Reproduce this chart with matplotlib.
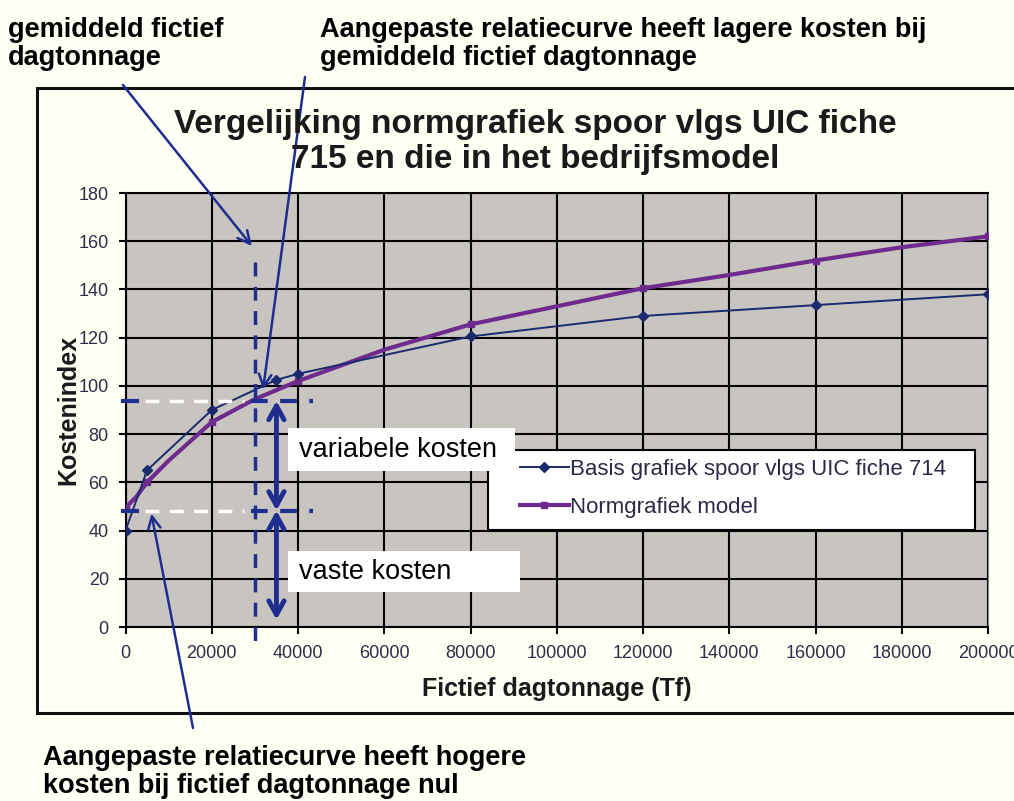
import matplotlib
matplotlib.use('Agg')
import matplotlib.pyplot as plt
from matplotlib.patches import Rectangle

plt.rcParams['font.family'] = ['Liberation Sans', 'DejaVu Sans']

# data
x_basis = [0, 5000, 20000, 35000, 40000, 80000, 120000, 160000, 200000]
y_basis = [40, 65, 90, 102.5, 105, 120.5, 129, 133.5, 138]

x_norm = [0, 2500, 5000, 10000, 20000, 30000, 40000, 60000, 80000,
          100000, 120000, 140000, 160000, 180000, 200000]
y_norm = [49.5, 54, 60, 69, 85, 94.5, 102, 115, 125.5,
          133, 140.5, 146, 152, 157.5, 162]
norm_marks = [0, 2, 4, 6, 8, 10, 12, 14]

x_ticks = list(range(0, 200001, 20000))
y_ticks = list(range(0, 181, 20))

avg_tonnage = 30000
split_x = 35000
level_var = 93.8
level_fixed = 48.3

navy = '#1f2d8f'
bg = '#fffff4'
W, H = 1014, 801

fig = plt.figure(figsize=(W / 100, H / 100), dpi=100, facecolor=bg)

# outer chart frame
frame = fig.add_axes([0, 0, 1, 1], zorder=-5)
frame.set_xlim(0, W)
frame.set_ylim(H, 0)
frame.axis('off')
frame.add_patch(Rectangle((37, 88), 1200, 713 - 88, facecolor=bg,
                          edgecolor='#111111', lw=2.2))

ax = fig.add_axes([125.5 / W, 1 - 627 / H, (988 - 125.5) / W, (627 - 193) / H],
                  zorder=1)
ax.set_facecolor('#c8c5c0')

ax.plot(x_basis, y_basis, color='#1b2a6e', lw=1.4, marker='D', ms=5.5,
        label='Basis grafiek spoor vlgs UIC fiche 714', zorder=4)
ax.plot(x_norm, y_norm, color='#6e2a8c', lw=3, marker='s', ms=5,
        markevery=norm_marks, label='Normgrafiek model', zorder=3)

ax.set_xlim(0, 200000)
ax.set_ylim(0, 180)
ax.set_xticks(x_ticks)
ax.set_yticks(y_ticks)
ax.grid(True, color='black', lw=1.5)
ax.set_axisbelow(True)
ax.tick_params(axis='both', direction='out', length=5, width=1.5,
               labelsize=13, labelcolor='#2e2e48')
ax.tick_params(axis='x', pad=8)
ax.tick_params(axis='y', pad=7)
for s in ['left', 'bottom', 'top']:
    ax.spines[s].set_color('black')
    ax.spines[s].set_linewidth(1.5)
ax.spines['right'].set_color('#888888')

ax.set_xlabel('Fictief dagtonnage (Tf)', fontsize=18, fontweight='bold',
              labelpad=11, color='#1a1a1a')
ax.set_ylabel('Kostenindex', fontsize=18, fontweight='bold', labelpad=-1,
              color='#1a1a1a')

fig.text(535 / W, 1 - 142 / H,
         'Vergelijking normgrafiek spoor vlgs UIC fiche\n715 en die in het bedrijfsmodel',
         ha='center', va='center', fontsize=24, fontweight='bold',
         color='#1a1a1a', linespacing=1.15)

# legend: white box with black border, entries inside
ax.add_patch(Rectangle((0.4203, 0.2235), 0.5647, 0.1843, transform=ax.transAxes,
                       facecolor='white', edgecolor='black', lw=1.5, zorder=6))
leg = ax.legend(loc='center left', bbox_to_anchor=(0.4574, 0.319),
                fontsize=16, frameon=False, handlelength=2.2,
                handletextpad=0.05, labelspacing=0.75, borderaxespad=0,
                borderpad=0)
leg.set_zorder(7)
for t in leg.get_texts():
    t.set_color('#2a2a48')

# helper lines: average tonnage and the two cost levels
ax.plot([avg_tonnage, avg_tonnage], [151.5, -9], color=navy, lw=2.5,
        ls=(0, (4, 3)), clip_on=False, zorder=5)
for lvl in [level_var, level_fixed]:
    ax.plot([-600, 2600], [lvl, lvl], color=navy, lw=3, clip_on=False, zorder=5)
    ax.plot([4500, 27500], [lvl, lvl], color='white', lw=2.5,
            ls=(0, (4, 3)), zorder=5)
    ax.plot([29000, 43500], [lvl, lvl], color=navy, lw=3,
            ls=(0, (4, 3)), clip_on=False, zorder=5)

# vertical double arrows
dbl = dict(arrowstyle='<->,head_length=1.0,head_width=0.55', color=navy,
           lw=3.5, shrinkA=0, shrinkB=0)
ax.annotate('', xy=(split_x, level_var), xytext=(split_x, level_fixed),
            arrowprops=dbl, zorder=6)
ax.annotate('', xy=(split_x, level_fixed), xytext=(split_x, 3),
            arrowprops=dbl, zorder=6)

# white text boxes
ax.add_patch(Rectangle((37700, 64.7), 52600, 17.9, facecolor='white',
                       edgecolor='none', zorder=6))
ax.add_patch(Rectangle((37700, 14.5), 53700, 17.0, facecolor='white',
                       edgecolor='none', zorder=6))
ax.text(40300, 73.6, 'variabele kosten', fontsize=19.5, va='center', zorder=7)
ax.text(40300, 23.0, 'vaste kosten', fontsize=19.5, va='center', zorder=7)

# callout arrows from the notes
thin = dict(arrowstyle='->,head_length=0.9,head_width=0.45', color=navy,
            lw=1.8, shrinkA=0, shrinkB=0)
ax.annotate('', xy=(29300, 158), xytext=(123, H - 85),
            textcoords='figure pixels', arrowprops=thin, zorder=8,
            annotation_clip=False)
ax.annotate('', xy=(31900, 98.5), xytext=(305, H - 77),
            textcoords='figure pixels', arrowprops=thin, zorder=8,
            annotation_clip=False)
ax.annotate('', xy=(6000, 47), xytext=(193, H - 728),
            textcoords='figure pixels', arrowprops=thin, zorder=8,
            annotation_clip=False)

note = dict(fontsize=19.5, fontweight='bold', color='black', va='top',
            ha='left', linespacing=1.12)
fig.text(8 / W, 1 - 17 / H, 'gemiddeld fictief\ndagtonnage', **note)
fig.text(320 / W, 1 - 17 / H,
         'Aangepaste relatiecurve heeft lagere kosten bij\ngemiddeld fictief dagtonnage',
         **note)
fig.text(43 / W, 1 - 745 / H,
         'Aangepaste relatiecurve heeft hogere\nkosten bij fictief dagtonnage nul',
         **note)

fig.savefig('out.png', dpi=100, facecolor=bg)
